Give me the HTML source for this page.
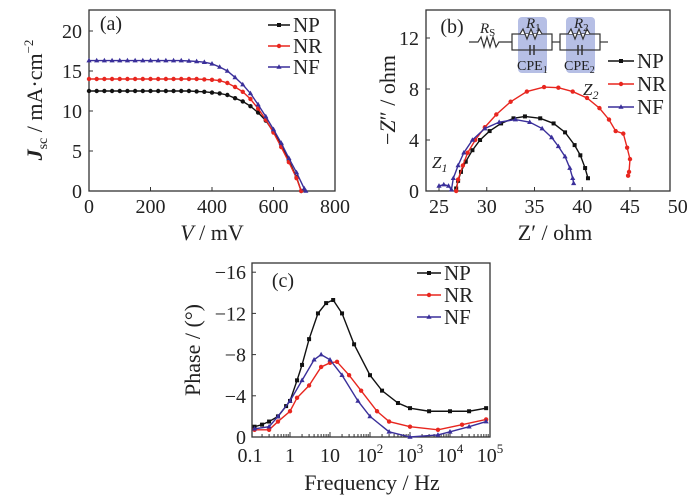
<!DOCTYPE html>
<html><head><meta charset="utf-8"><style>
body{margin:0;background:#fff}
svg text{font-family:"Liberation Serif",serif;fill:#222}
</style></head><body>
<svg id="fig" width="700" height="496" viewBox="0 0 700 496" xmlns="http://www.w3.org/2000/svg"></svg>
<script>
// Panel (a) data
const aV_NP=[0,25,50,75,100,125,150,175,200,225,250,275,300,325,350,375,400,425,450,475,500,525,550,575,600,625,650,675,690];
const aJ_NP=[12.5,12.5,12.5,12.5,12.5,12.5,12.5,12.5,12.5,12.5,12.5,12.5,12.5,12.5,12.45,12.4,12.3,12.2,12.0,11.6,11.2,10.6,9.8,8.8,7.4,5.8,3.8,1.7,0];
const aV_NR=[0,25,50,75,100,125,150,175,200,225,250,275,300,325,350,375,400,425,450,475,500,525,550,575,600,625,650,675,690];
const aJ_NR=[14,14,14,14,14,14,14,14,14,14,14,14,14,14,14,13.95,13.9,13.8,13.5,13.0,12.4,11.5,10.3,8.9,7.3,5.5,3.6,1.6,0];
const aV_NF=[0,25,50,75,100,125,150,175,200,225,250,275,300,325,350,375,400,425,450,475,500,525,550,575,600,625,650,675,700,705];
const aJ_NF=[16.3,16.3,16.3,16.3,16.3,16.3,16.3,16.3,16.3,16.3,16.3,16.3,16.3,16.25,16.2,16.1,15.9,15.5,15.0,14.2,13.3,12.2,10.8,9.3,7.7,6.0,4.1,2.3,0.3,0];
const aXTicks=[0,200,400,600,800];
const aYTicks=[0,5,10,15,20];
// Panel (b) data
const bX_NP=[26.8,27,27.3,27.8,28.5,29.3,30.3,31.5,32.8,34,35.6,37,38.2,39.2,39.8,40.3,40.6];
const bY_NP=[0.2,0.8,1.5,2.3,3.2,4.0,4.7,5.3,5.7,5.85,5.7,5.3,4.6,3.6,2.8,1.8,1.0];
const bX_NR=[26.8,27,27.5,28,28.8,29.8,31,32.5,34.2,36,37.5,39,40.5,41.8,42.8,43.5,44.3,44.7,45,44.9,44.8];
const bY_NR=[0,0.9,2,3,4,5,6,7,7.8,8.15,8.1,7.8,7.3,6.5,5.6,4.7,4.5,3.4,2.5,1.5,1.2];
const bX_NF=[25,25.5,26,26.3,26.5,27,27.6,28.5,29.8,31.3,33,34.5,35.8,36.8,37.5,38.2,38.7,39,39.1];
const bY_NF=[0.4,0.5,0.4,0.1,1,2,3,4,4.9,5.4,5.6,5.4,4.9,4.2,3.5,2.7,1.8,1,0.6];
const bXTicks=[25,30,35,40,45,50];
const bYTicks=[0,4,8,12];
// Panel (c) data
const cF_NP=[0.13,0.2,0.3,0.5,0.8,1,1.5,2,3,5,8,12,20,40,100,200,500,1000,3000,10000,30000,80000];
const cP_NP=[-1,-1.2,-1.5,-2,-3,-3.5,-5.5,-7,-9.5,-12,-13,-13.3,-12,-9,-6,-4.5,-3.3,-2.8,-2.5,-2.5,-2.5,-2.8];
const cF_NR=[0.13,0.3,0.5,1,1.5,3,6,10,15,30,60,150,300,1000,5000,20000,80000];
const cP_NR=[-0.7,-0.7,-1.5,-2.5,-3.8,-5,-6.8,-7.2,-7.3,-6,-4.5,-2.5,-1.5,-1,-0.7,-1.2,-1.7];
const cF_NF=[0.13,0.3,0.5,1,2,4,6,10,20,50,100,300,1000,5000,10000,30000,80000];
const cP_NF=[-0.8,-1,-2,-3.5,-5.5,-7.5,-8,-7.5,-6,-3.5,-2,-0.5,0,-0.2,-0.5,-1,-1.5];
const cXExp=[-1,0,1,2,3,4,5];
const cYTicks=[0,-4,-8,-12,-16];

const NS='http://www.w3.org/2000/svg';
const svg=document.getElementById('fig');
function mk(tag,attrs,parent){const e=document.createElementNS(NS,tag);for(const k in attrs)e.setAttribute(k,attrs[k]);(parent||svg).appendChild(e);return e;}
function txt(s,x,y,size,anchor,parent){const t=mk('text',{x:x,y:y,'font-size':size,'text-anchor':anchor||'middle'},parent);t.textContent=s;return t;}
const COL={NP:'#111',NR:'#e8261f',NF:'#3a2f9a'};
function marker(g,type,x,y,c){
  if(type==='sq') mk('rect',{x:x-2,y:y-2,width:4,height:4,fill:c},g);
  else if(type==='ci') mk('circle',{cx:x,cy:y,r:2.2,fill:c},g);
  else mk('polygon',{points:`${x},${y-2.8} ${x-2.6},${y+1.8} ${x+2.6},${y+1.8}`,fill:c},g);
}
function series(g,xs,ys,sx,sy,c,type){
  const pts=xs.map((v,i)=>sx(v)+','+sy(ys[i])).join(' ');
  mk('polyline',{points:pts,fill:'none',stroke:c,'stroke-width':1.4},g);
  xs.forEach((v,i)=>marker(g,type,sx(v),sy(ys[i]),c));
}
function frame(g,x0,y0,x1,y1){mk('rect',{x:x0,y:y0,width:x1-x0,height:y1-y0,fill:'none',stroke:'#333','stroke-width':1.3},g);}
function legend(g,x,y,dy,lineLen){
  [['NP','sq'],['NR','ci'],['NF','tr']].forEach((l,i)=>{
    const yy=y+i*dy;
    const e=mk('g',{},g);
    
    
    mk('line',{x1:x,y1:yy,x2:x+lineLen,y2:yy,stroke:COL[l[0]],'stroke-width':1.6},e);
    marker(e,l[1],x+lineLen/2,yy,COL[l[0]]);
    txt(l[0],x+lineLen+3,yy+7,21,'start',e);
  });
}

// ---------- Panel (a)
{
const g=mk('g',{});
const sx=v=>89+v*(246/800), sy=j=>191-j*8;
frame(g,89,10,335,191);
aXTicks.forEach(t=>{mk('line',{x1:sx(t),y1:191,x2:sx(t),y2:187,stroke:'#333'},g);txt(t,sx(t),213,20,'middle',g);});
aYTicks.forEach(t=>{mk('line',{x1:89,y1:sy(t),x2:93,y2:sy(t),stroke:'#333'},g);txt(t,82,sy(t)+7,20,'end',g);});
series(g,aV_NP,aJ_NP,sx,sy,COL.NP,'ci');
series(g,aV_NR,aJ_NR,sx,sy,COL.NR,'ci');
series(g,aV_NF,aJ_NF,sx,sy,COL.NF,'tr');
txt('(a)',111,30,20,'middle',g);
legend(g,268,25,21,22);
const xt=mk('text',{x:212,y:240,'font-size':22,'text-anchor':'middle'},g);xt.innerHTML='<tspan font-style="italic">V</tspan> / mV';
const yt=mk('text',{x:0,y:0,'font-size':22,'text-anchor':'middle',transform:'translate(42,100) rotate(-90)'},g);
yt.innerHTML='<tspan font-style="italic" font-weight="bold">J</tspan><tspan font-size="14" dy="5">sc</tspan><tspan dy="-5"> / mA·cm</tspan><tspan font-size="13" dy="-9">−2</tspan>';
}
// ---------- Panel (b)
{
const g=mk('g',{});
const sx=v=>439+(v-25)*9.55, sy=z=>191-z*12.75;
frame(g,426,10,670,191);
bXTicks.forEach(t=>{if(sx(t)<=672)mk('line',{x1:sx(t),y1:191,x2:sx(t),y2:187,stroke:'#333'},g);txt(t,sx(t),213,20,'middle',g);});
bYTicks.forEach(t=>{mk('line',{x1:426,y1:sy(t),x2:430,y2:sy(t),stroke:'#333'},g);txt(t,419,sy(t)+7,20,'end',g);});
// circuit inset
const c=mk('g',{},g);
mk('rect',{x:518,y:17,width:29,height:56,rx:4,fill:'#a9b4e0',opacity:0.85},c);
mk('rect',{x:566,y:17,width:29,height:56,rx:4,fill:'#a9b4e0',opacity:0.85},c);
mk('polyline',{points:'469,42 478,42 481,37 484,47 487,37 490,47 493,37 496,47 499,42 512,42',fill:'none',stroke:'#333','stroke-width':1.2},c);
[512,560].forEach(x0=>{
  mk('rect',{x:x0,y:34,width:40,height:16,fill:'none',stroke:'#333','stroke-width':1.2},c);
  mk('polyline',{points:`${x0+8},34 ${x0+11},29 ${x0+15},39 ${x0+19},29 ${x0+23},39 ${x0+27},29 ${x0+30},34`,fill:'#fff',stroke:'#333','stroke-width':1.2},c);
  mk('line',{x1:x0+18,y1:45,x2:x0+18,y2:55,stroke:'#333','stroke-width':1.5},c);
  mk('line',{x1:x0+22,y1:45,x2:x0+22,y2:55,stroke:'#333','stroke-width':1.5},c);
});
mk('line',{x1:552,y1:42,x2:560,y2:42,stroke:'#333','stroke-width':1.2},c);
mk('line',{x1:600,y1:42,x2:608,y2:42,stroke:'#333','stroke-width':1.2},c);
let t=mk('text',{x:480,y:33,'font-size':15},c);t.innerHTML='<tspan font-style="italic">R</tspan><tspan font-size="11" dy="3">S</tspan>';
t=mk('text',{x:526,y:28,'font-size':15},c);t.innerHTML='<tspan font-style="italic">R</tspan><tspan font-size="11" dy="3">1</tspan>';
t=mk('text',{x:574,y:28,'font-size':15},c);t.innerHTML='<tspan font-style="italic">R</tspan><tspan font-size="11" dy="3">2</tspan>';
t=mk('text',{x:517,y:70,'font-size':14},c);t.innerHTML='CPE<tspan font-size="10" dy="3">1</tspan>';
t=mk('text',{x:564,y:70,'font-size':14},c);t.innerHTML='CPE<tspan font-size="10" dy="3">2</tspan>';
series(g,bX_NP,bY_NP,sx,sy,COL.NP,'sq');
series(g,bX_NR,bY_NR,sx,sy,COL.NR,'ci');
series(g,bX_NF,bY_NF,sx,sy,COL.NF,'tr');
txt('(b)',452,33,20,'middle',g);
legend(g,608,61,23,26);
t=mk('text',{x:583,y:95,'font-size':17,'font-style':'italic'},g);t.innerHTML='Z<tspan font-size="12" dy="4">2</tspan>';
t=mk('text',{x:432,y:168,'font-size':17,'font-style':'italic'},g);t.innerHTML='Z<tspan font-size="12" dy="4">1</tspan>';
t=mk('text',{x:555,y:240,'font-size':22,'text-anchor':'middle'},g);t.innerHTML='Z′ / ohm';
t=mk('text',{x:0,y:0,'font-size':22,'text-anchor':'middle',transform:'translate(395,100) rotate(-90)'},g);t.innerHTML='−<tspan font-style="italic">Z</tspan>″ / ohm';
}
// ---------- Panel (c)
{
const g=mk('g',{});
const sx=f=>290+Math.log10(f)*40, sy=p=>437+p*10.3;
frame(g,252,263,490,437);
cXExp.forEach(e=>{
  const x=290+e*40;
  if(e>-1&&e<5)mk('line',{x1:x,y1:437,x2:x,y2:432,stroke:'#333'},g);
  for(let k=2;k<10&&e<5;k++){const xm=290+(e+Math.log10(k))*40;mk('line',{x1:xm,y1:437,x2:xm,y2:434,stroke:'#333'},g);}
  let lab;
  if(e===-1)lab=txt('0.1',x,462,20,'middle',g);
  else if(e===0)lab=txt('1',x,462,20,'middle',g);
  else if(e===1)lab=txt('10',x,462,20,'middle',g);
  else{lab=mk('text',{x:x,y:462,'font-size':20,'text-anchor':'middle'},g);lab.innerHTML='10<tspan font-size="13" dy="-9">'+e+'</tspan>';}
});
cYTicks.forEach(t=>{mk('line',{x1:252,y1:sy(t),x2:256,y2:sy(t),stroke:'#333'},g);txt(t===0?'0':'−'+Math.abs(t),246,sy(t)+7,20,'end',g);});
series(g,cF_NP,cP_NP,sx,sy,COL.NP,'sq');
series(g,cF_NR,cP_NR,sx,sy,COL.NR,'ci');
series(g,cF_NF,cP_NF,sx,sy,COL.NF,'tr');
txt('(c)',283,287,20,'middle',g);
legend(g,417,273,22,24);
txt('Frequency / Hz',372,490,22,'middle',g);
const yt=mk('text',{x:0,y:0,'font-size':22,'text-anchor':'middle',transform:'translate(200,350) rotate(-90)'},g);yt.textContent='Phase / (°)';
}
</script>
</body></html>
